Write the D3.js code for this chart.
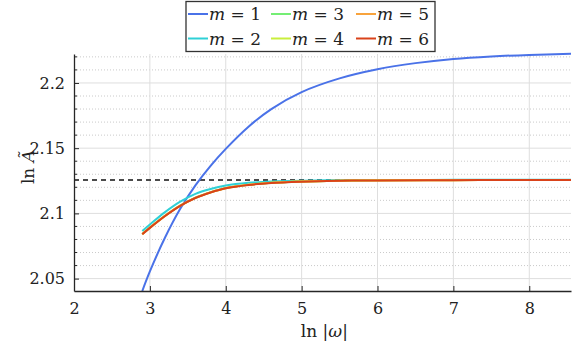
<!DOCTYPE html>
<html>
<head>
<meta charset="utf-8">
<script src="https://cdn.jsdelivr.net/npm/d3@7"></script>
<style>
  body { margin: 0; background: #fff; }
  text { font-family: "DejaVu Serif", serif; fill: #222; }
</style>
</head>
<body>
<div id="chart"></div>
<script>
var svgWidth = 574;
var svgHeight = 348;

var margin = { top: 54, right: 3, bottom: 57, left: 74 };
var width = svgWidth - margin.left - margin.right;
var height = svgHeight - margin.top - margin.bottom;

// data
var seriesNames = ["1", "2", "3", "4", "5", "6"];
var seriesColors = ["#4a72e8", "#2fd0d6", "#74ee74", "#c9ee3c", "#f8a33c", "#d9421a"];

var xM1 = [2.9, 3.0, 3.2, 3.4, 3.6, 3.8, 4.0, 4.3, 4.6, 5.0, 5.5, 6.0, 6.5, 7.0, 7.5, 8.0, 8.55];
var yM1 = [2.0405, 2.0555, 2.0815, 2.1035, 2.1215, 2.1365, 2.1495, 2.1665, 2.1800, 2.1930, 2.2035, 2.2105, 2.2152, 2.2184, 2.2203, 2.2215, 2.2223];

var xRest = [2.9, 3.0, 3.2, 3.4, 3.6, 3.8, 4.0, 4.3, 4.6, 5.0, 5.5, 6.0, 7.0, 8.0, 8.55];
var yM2 = [2.0865, 2.0915, 2.1010, 2.1090, 2.1150, 2.1187, 2.1213, 2.1234, 2.1245, 2.1251, 2.1254, 2.1256, 2.1257, 2.1257, 2.1257];
var yM3 = [2.0842, 2.0891, 2.0982, 2.1060, 2.1120, 2.1162, 2.1194, 2.1220, 2.1235, 2.1245, 2.1251, 2.1254, 2.1256, 2.1256, 2.1256];
var yM4 = [2.0841, 2.0890, 2.0981, 2.1059, 2.1119, 2.1161, 2.1193, 2.1219, 2.1234, 2.1244, 2.1251, 2.1254, 2.1255, 2.1256, 2.1256];
var yM5 = [2.0841, 2.0890, 2.0981, 2.1059, 2.1119, 2.1161, 2.1193, 2.1219, 2.1234, 2.1244, 2.1250, 2.1253, 2.1255, 2.1256, 2.1256];
var yM6 = [2.0840, 2.0889, 2.0980, 2.1058, 2.1118, 2.1160, 2.1192, 2.1218, 2.1233, 2.1243, 2.1250, 2.1253, 2.1255, 2.1256, 2.1256];

var refLevel = 2.1256;

var xTicks = [2, 3, 4, 5, 6, 7, 8];
var yTicks = [2.05, 2.1, 2.15, 2.2];
var yMinor = [2.06, 2.07, 2.08, 2.09, 2.11, 2.12, 2.13, 2.14, 2.16, 2.17, 2.18, 2.19, 2.21, 2.22];

var series = [
  { name: seriesNames[0], x: xM1, y: yM1 },
  { name: seriesNames[1], x: xRest, y: yM2 },
  { name: seriesNames[2], x: xRest, y: yM3 },
  { name: seriesNames[3], x: xRest, y: yM4 },
  { name: seriesNames[4], x: xRest, y: yM5 },
  { name: seriesNames[5], x: xRest, y: yM6 }
];

var svg = d3.select("#chart")
  .append("svg")
  .attr("width", svgWidth)
  .attr("height", svgHeight);

var chartGroup = svg.append("g")
  .attr("transform", `translate(${margin.left}, ${margin.top})`);

var xScale = d3.scaleLinear().domain([2, 8.55]).range([0, width]);
var yScale = d3.scaleLinear().domain([2.0405, 2.2222]).range([height, 0]);

// minor dotted grid
chartGroup.append("g")
  .selectAll("line")
  .data(yMinor)
  .enter()
  .append("line")
  .attr("x1", 0)
  .attr("x2", width)
  .attr("y1", d => yScale(d))
  .attr("y2", d => yScale(d))
  .attr("stroke", "#bdbdbd")
  .attr("stroke-width", 0.8)
  .attr("stroke-dasharray", "1,2");

// major grid
chartGroup.append("g")
  .selectAll("line")
  .data(yTicks)
  .enter()
  .append("line")
  .attr("x1", 0)
  .attr("x2", width)
  .attr("y1", d => yScale(d))
  .attr("y2", d => yScale(d))
  .attr("stroke", "#dedede")
  .attr("stroke-width", 1);

chartGroup.append("g")
  .selectAll("line")
  .data(xTicks.slice(1))
  .enter()
  .append("line")
  .attr("x1", d => xScale(d))
  .attr("x2", d => xScale(d))
  .attr("y1", 0)
  .attr("y2", height)
  .attr("stroke", "#dedede")
  .attr("stroke-width", 1);

// dashed reference line
chartGroup.append("line")
  .attr("x1", 0)
  .attr("x2", width)
  .attr("y1", yScale(refLevel))
  .attr("y2", yScale(refLevel))
  .attr("stroke", "#111")
  .attr("stroke-width", 1.3)
  .attr("stroke-dasharray", "5,4");

// curves
var line = d3.line()
  .curve(d3.curveCatmullRom.alpha(0.5));

chartGroup.append("defs").append("clipPath")
  .attr("id", "plotclip")
  .append("rect")
  .attr("x", 0).attr("y", -2)
  .attr("width", width).attr("height", height + 2);

chartGroup.append("g")
  .attr("clip-path", "url(#plotclip)")
  .selectAll("path")
  .data(series)
  .enter()
  .append("path")
  .attr("d", s => line(s.x.map((xv, i) => [xScale(xv), yScale(s.y[i])])))
  .attr("fill", "none")
  .attr("stroke", (s, i) => seriesColors[i])
  .attr("stroke-width", 2);

// axes (ticks point inwards)
var bottomAxis = d3.axisBottom(xScale)
  .tickValues(xTicks)
  .tickSize(-5)
  .tickSizeOuter(0)
  .tickPadding(12)
  .tickFormat(d3.format("d"));

var leftAxis = d3.axisLeft(yScale)
  .tickValues(yTicks)
  .tickSize(-5)
  .tickSizeOuter(0)
  .tickPadding(9)
  .tickFormat(d => String(+d.toFixed(2)));

var xAxis = chartGroup.append("g")
  .attr("transform", `translate(0, ${height})`)
  .call(bottomAxis);

var yAxis = chartGroup.append("g")
  .call(leftAxis);

// minor ticks on y axis
chartGroup.append("g")
  .selectAll("line")
  .data(yMinor)
  .enter()
  .append("line")
  .attr("x1", 0)
  .attr("x2", 3)
  .attr("y1", d => yScale(d))
  .attr("y2", d => yScale(d))
  .attr("stroke", "#262626")
  .attr("stroke-width", 1);

[xAxis, yAxis].forEach(function(ax) {
  ax.attr("font-family", "DejaVu Serif");
  ax.select(".domain").attr("stroke", "#262626").attr("stroke-width", 1.3);
  ax.selectAll(".tick line").attr("stroke", "#262626");
  ax.selectAll(".tick text")
    .style("font-size", "16px")
    .style("font-family", "'DejaVu Serif', serif")
    .attr("fill", "#222");
});

// axis labels
var xLabel = chartGroup.append("text")
  .attr("x", xScale(5.3))
  .attr("y", height + 46)
  .attr("text-anchor", "middle")
  .style("font-size", "17px");
xLabel.append("tspan").text("ln |");
xLabel.append("tspan").style("font-style", "italic").text("ω");
xLabel.append("tspan").text("|");

var yLabel = chartGroup.append("text")
  .attr("transform", `translate(-40, ${yScale(2.1355)}) rotate(-90)`)
  .attr("text-anchor", "middle")
  .style("font-size", "17px");
yLabel.append("tspan").text("ln ");
yLabel.append("tspan").style("font-style", "italic").text("Ã");

// legend
var legend = svg.append("g");
legend.append("rect")
  .attr("x", 186)
  .attr("y", 1.5)
  .attr("width", 249)
  .attr("height", 50)
  .attr("fill", "#fff")
  .attr("stroke", "#333")
  .attr("stroke-width", 1.3);

var legendOrder = [0, 2, 4, 1, 3, 5];
var colX = [188, 271, 356];
var rowY = [14, 38.5];

legend.selectAll("g.item")
  .data(legendOrder)
  .enter()
  .append("g")
  .attr("class", "item")
  .each(function(idx, k) {
    var g = d3.select(this);
    var cx = colX[k % 3];
    var cy = rowY[Math.floor(k / 3)];
    g.append("line")
      .attr("x1", cx).attr("x2", cx + 20)
      .attr("y1", cy).attr("y2", cy)
      .attr("stroke", seriesColors[idx])
      .attr("stroke-width", 2);
    var t = g.append("text")
      .attr("x", cx + 21)
      .attr("y", cy + 6)
      .style("font-size", "17px");
    t.append("tspan").style("font-style", "italic").text("m");
    t.append("tspan").text(" = " + seriesNames[idx]);
  });
</script>
</body>
</html>
